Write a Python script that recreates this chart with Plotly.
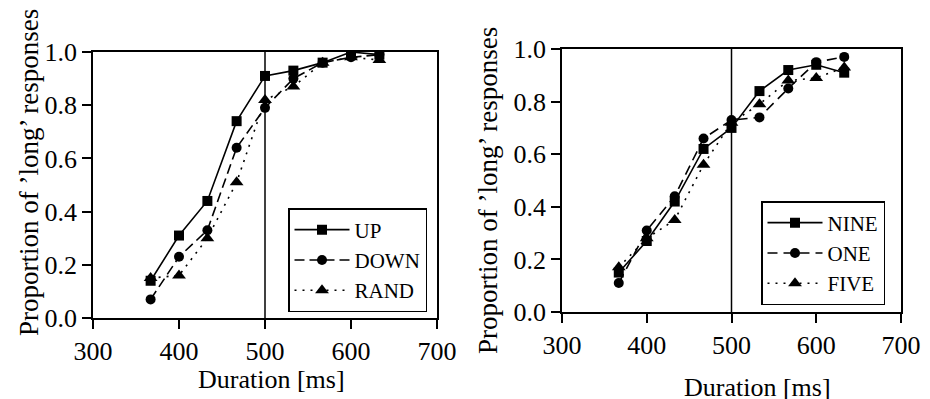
import plotly.graph_objects as go

# ---- data ----
durations = [367, 400, 433, 467, 500, 533, 567, 600, 633]

up = [0.14, 0.31, 0.44, 0.74, 0.91, 0.93, 0.96, 1.00, 0.99]
down = [0.07, 0.23, 0.33, 0.64, 0.79, 0.90, 0.96, 0.98, 0.99]
rand = [0.15, 0.16, 0.30, 0.51, 0.82, 0.87, 0.96, 0.98, 0.97]

nine = [0.15, 0.27, 0.42, 0.62, 0.70, 0.84, 0.92, 0.94, 0.91]
one = [0.11, 0.31, 0.44, 0.66, 0.73, 0.74, 0.85, 0.95, 0.97]
five = [0.17, 0.28, 0.35, 0.56, 0.72, 0.79, 0.88, 0.89, 0.93]

x_ticks = [300, 400, 500, 600, 700]
y_ticks = [0.0, 0.2, 0.4, 0.6, 0.8, 1.0]
threshold = 500

FONT = "Liberation Serif"
BLACK = "black"

fig = go.Figure()

def add_series(x, y, name, symbol, dash, xa, ya, legend, msize):
    fig.add_trace(go.Scatter(
        x=x, y=y, name=name, mode="lines+markers",
        line=dict(color=BLACK, width=1.6, dash=dash),
        marker=dict(symbol=symbol, size=msize, color=BLACK),
        xaxis=xa, yaxis=ya, legend=legend,
    ))

add_series(durations, up, "UP", "square", "solid", "x", "y", "legend", 10)
add_series(durations, down, "DOWN", "circle", "10px,5px", "x", "y", "legend", 10)
add_series(durations, rand, "RAND", "triangle-up", "2px,6px", "x", "y", "legend", 12)

add_series(durations, nine, "NINE", "square", "solid", "x2", "y2", "legend2", 10)
add_series(durations, one, "ONE", "circle", "10px,6px", "x2", "y2", "legend2", 10)
add_series(durations, five, "FIVE", "triangle-up", "2px,6px", "x2", "y2", "legend2", 12)

axis_common = dict(
    showline=True, mirror=True, linecolor=BLACK, linewidth=1.5,
    ticks="outside", ticklen=9, tickwidth=1.5, tickcolor=BLACK,
    showgrid=False, zeroline=False, automargin=False,
    tickfont=dict(family=FONT, size=26, color=BLACK),
)

W, H = 930, 399
OFF = 8  # page body margin: figure origin sits 8px right/down of the window origin


def fx(px):
    return (px - OFF) / W


def fy(py):
    return 1 - (py - OFF) / H


fig.update_layout(
    template="none",
    width=W, height=H,
    margin=dict(l=0, r=0, t=0, b=0, autoexpand=False),
    paper_bgcolor="white", plot_bgcolor="white",
    font=dict(family=FONT, size=26, color=BLACK),
    xaxis=dict(domain=[fx(93), fx(437)], range=[300, 700], tickvals=x_ticks,
               anchor="y", **axis_common),
    yaxis=dict(domain=[fy(318), fy(52)], range=[0, 1], tickvals=y_ticks,
               tickformat=".1f", anchor="x", **axis_common),
    xaxis2=dict(domain=[fx(562), fx(901)], range=[300, 700], tickvals=x_ticks,
                anchor="y2", **axis_common),
    yaxis2=dict(domain=[fy(312), fy(49)], range=[0, 1], tickvals=y_ticks,
                tickformat=".1f", anchor="x2", **axis_common),
    legend=dict(x=fx(427), y=fy(312), xanchor="right", yanchor="bottom",
                bordercolor=BLACK, borderwidth=1.5, bgcolor="white",
                font=dict(family=FONT, size=21, color=BLACK),
                tracegroupgap=0, itemwidth=55),
    legend2=dict(x=fx(885), y=fy(305), xanchor="right", yanchor="bottom",
                 bordercolor=BLACK, borderwidth=1.5, bgcolor="white",
                 font=dict(family=FONT, size=21, color=BLACK),
                 tracegroupgap=0, itemwidth=55),
    showlegend=True,
)

# vertical reference lines at the threshold duration
for xr, yr in [("x", "y domain"), ("x2", "y2 domain")]:
    fig.add_shape(type="line", xref=xr, yref=yr, x0=threshold, x1=threshold,
                  y0=0, y1=1, line=dict(color=BLACK, width=1.5), layer="below")

# axis titles
ytitle = "Proportion of \u2019long\u2019 responses"
title_pos = [
    (ytitle, 29, 173, -90),
    (ytitle, 488, 191, -90),
    ("Duration [ms]", 271, 379, 0),
    ("Duration [ms]", 757, 387, 0),
]
for txt, px, py, ang in title_pos:
    fig.add_annotation(text=txt, xref="paper", yref="paper", x=fx(px), y=fy(py),
                       xanchor="center", yanchor="middle", textangle=ang,
                       showarrow=False, font=dict(family=FONT, size=27 if ang else 26))

fig.write_html("out.html")
